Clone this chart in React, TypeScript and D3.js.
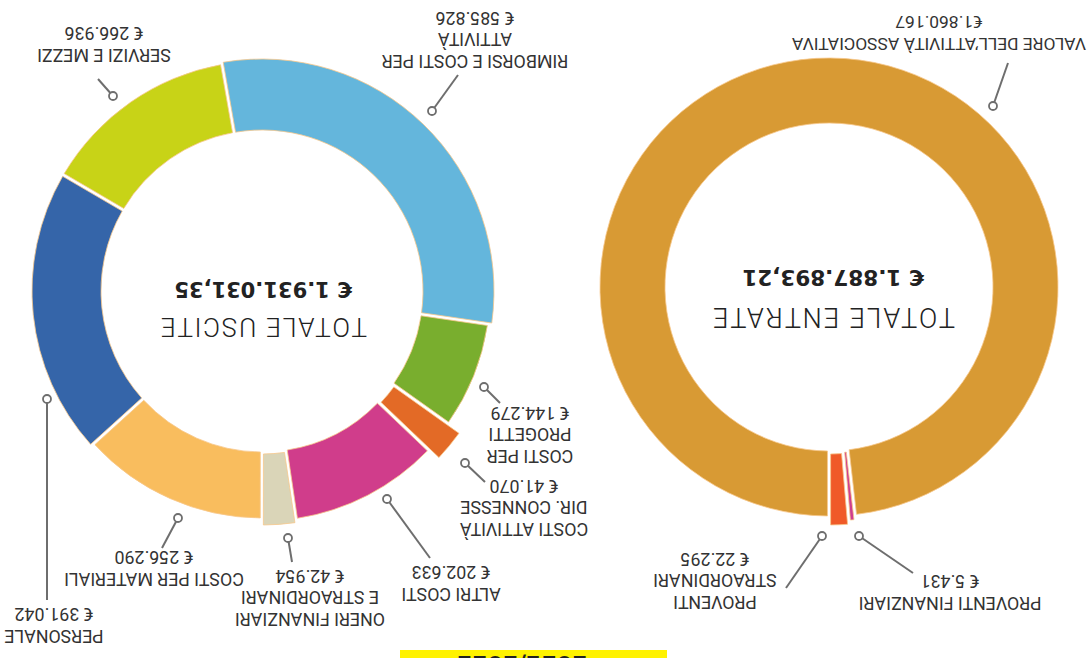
import React from "react";
import * as d3 from "d3";

// ---------- DATA ----------
const usciteCategories = [
  "RIMBORSI E COSTI PER ATTIVITÀ",
  "COSTI PER PROGETTI",
  "COSTI ATTIVITÀ DIR. CONNESSE",
  "ALTRI COSTI",
  "ONERI FINANZIARI E STRAORDINARI",
  "COSTI PER MATERIALI",
  "PERSONALE",
  "SERVIZI E MEZZI",
];
const usciteValues = [585826, 144279, 41070, 202633, 42954, 256290, 391042, 266936];
const usciteColors = ["#64b6dc", "#79ae2e", "#e36a26", "#d03d8b", "#dad5b8", "#f9bd5e", "#3565a9", "#c8d317"];
const usciteTotal = "€ 1.931.031,35";

const entrateCategories = [
  "VALORE DELL’ATTIVITÀ ASSOCIATIVA",
  "PROVENTI FINANZIARI",
  "PROVENTI STRAORDINARI",
];
const entrateValues = [1860167, 5431, 22295];
const entrateColors = ["#d89a34", "#cf3d8f", "#f05a28"];
const entrateTotal = "€ 1.887.893,21";

const headerText = "2021/2022";

// ---------- LAYOUT (unrotated page coords, the whole page is turned 180°) ----------
const W = 1088;
const H = 658;
const FONT = "Roboto, 'Open Sans', sans-serif";
const BOLDFONT = "'DejaVu Sans', Roboto, sans-serif";

const itLocale = d3.formatLocale({ decimal: ",", thousands: ".", grouping: [3], currency: ["€ ", ""] });
const fmt = itLocale.format(",d");

const usciteGeo = { cx: 826, cy: 367, r: 161, R: 230, start: 170 };
const entrateGeo = { cx: 259, cy: 371, r: 164, R: 229, start: 0 };

// per-slice radial offsets (exploded look)
const usciteExtra = [[0, 2], [0, -2], [2, 13], [0, 0], [2, 4], [0, -3], [0, 0], [0, 0]];
const entrateExtra = [[0, 0], [2, 5], [3, 9]];

type Lab = { lines: string[]; x: number; y: number; dot: [number, number]; end: [number, number]; euro: string; size?: number };

const usciteLab: Lab[] = [
  { lines: ["RIMBORSI E COSTI PER", "ATTIVITÀ"], x: 613, y: 603, dot: [656, 547], end: [630, 583], euro: "€ " },
  { lines: ["COSTI PER", "PROGETTI"], x: 558, y: 208, dot: [604, 271], end: [588, 255], euro: "€ " },
  { lines: ["COSTI ATTIVITÀ", "DIR. CONNESSE"], x: 564, y: 135, dot: [623, 195], end: [603, 176], euro: "€ " },
  { lines: ["ALTRI COSTI"], x: 637, y: 70, dot: [701, 159], end: [658, 100], euro: "€ " },
  { lines: ["ONERI FINANZIARI", "E STRAORDINARI"], x: 778, y: 45, dot: [800, 120], end: [796, 96], euro: "€ " },
  { lines: ["COSTI PER MATERIALI"], x: 934, y: 85, dot: [910, 140], end: [926, 110], euro: "€ " },
  { lines: ["PERSONALE"], x: 1034, y: 28, dot: [1041, 259], end: [1041, 58], euro: "€ " },
  { lines: ["SERVIZI E MEZZI"], x: 984, y: 609, dot: [975, 562], end: [990, 579], euro: "€ " },
];
const entrateLab: Lab[] = [
  { lines: ["VALORE DELL’ATTIVITÀ ASSOCIATIVA"], x: 149, y: 620, dot: [95, 552], end: [80, 595], euro: "€", size: 17.4 },
  { lines: ["PROVENTI FINANZIARI"], x: 138, y: 61, dot: [229, 122], end: [175, 85], euro: "€ " },
  { lines: ["PROVENTI", "STRAORDINARI"], x: 373, y: 62, dot: [266, 122], end: [302, 70], euro: "€ " },
];

const LINE = 21.7;

function Donut({ values, colors, extra, geo }: any) {
  const rad = (d: number) => (d * Math.PI) / 180;
  const pie = d3
    .pie<number>()
    .sort(null)
    .value((d) => d)
    .startAngle(rad(geo.start))
    .endAngle(rad(geo.start) + Math.PI * 2)
    .padAngle(0.011);
  const arcs = pie(values);
  return (
    <g transform={`translate(${geo.cx},${geo.cy})`}>
      {arcs.map((a, i) => {
        const gen = d3
          .arc<any>()
          .innerRadius(geo.r + extra[i][0])
          .outerRadius(geo.R + extra[i][1]);
        return (
          <path key={i} d={gen(a) || ""} fill={colors[i]} stroke="#f7c88c" strokeWidth={0.8} />
        );
      })}
    </g>
  );
}

function Labels({ labs, values }: { labs: Lab[]; values: number[] }) {
  return (
    <g fontFamily={FONT} fontSize={17.8} fill="#333" textAnchor="middle">
      {labs.map((l, i) => {
        const all = [...l.lines, l.euro + fmt(values[i])];
        return (
          <g key={i} fontSize={l.size || 17.8}>
            <line x1={l.dot[0]} y1={l.dot[1]} x2={l.end[0]} y2={l.end[1]} stroke="#6e6e6e" strokeWidth={2} />
            <circle cx={l.dot[0]} cy={l.dot[1]} r={4} fill="#fff" stroke="#6e6e6e" strokeWidth={1.8} />
            {all.map((t, j) => (
              <text key={j} x={l.x} y={l.y + j * LINE}>
                {t}
              </text>
            ))}
          </g>
        );
      })}
    </g>
  );
}

export default function App() {
  return (
    <svg
      width={W}
      height={H}
      style={{ position: "absolute", left: 0, top: 0, background: "#fff" }}
      xmlns="http://www.w3.org/2000/svg"
    >
      <rect width={W} height={H} fill="#fff" />
      <g transform={`rotate(180 ${W / 2} ${H / 2})`}>
        <rect x={421} y={0} width={267} height={8} fill="#fff200" />
        <text x={566} y={2} textAnchor="middle" fontFamily={BOLDFONT} fontWeight={700} fontSize={22} fill="#222">
          {headerText}
        </text>

        <Donut values={usciteValues} colors={usciteColors} extra={usciteExtra} geo={usciteGeo} />
        <Donut values={entrateValues} colors={entrateColors} extra={entrateExtra} geo={entrateGeo} />

        <Labels labs={usciteLab} values={usciteValues} />
        <Labels labs={entrateLab} values={entrateValues} />

        <g fill="#222" textAnchor="middle">
          <text x={usciteGeo.cx - 1} y={340} fontFamily={FONT} fontSize={26} fontWeight={300} letterSpacing={1.8}>
            TOTALE USCITE
          </text>
          <text x={usciteGeo.cx - 1} y={376} fontFamily={BOLDFONT} fontSize={21} fontWeight={700}>
            {usciteTotal}
          </text>
          <text x={entrateGeo.cx - 4} y={350} fontFamily={FONT} fontSize={27} fontWeight={300} letterSpacing={2}>
            TOTALE ENTRATE
          </text>
          <text x={entrateGeo.cx - 4} y={388} fontFamily={BOLDFONT} fontSize={21.5} fontWeight={700}>
            {entrateTotal}
          </text>
        </g>
      </g>
    </svg>
  );
}
